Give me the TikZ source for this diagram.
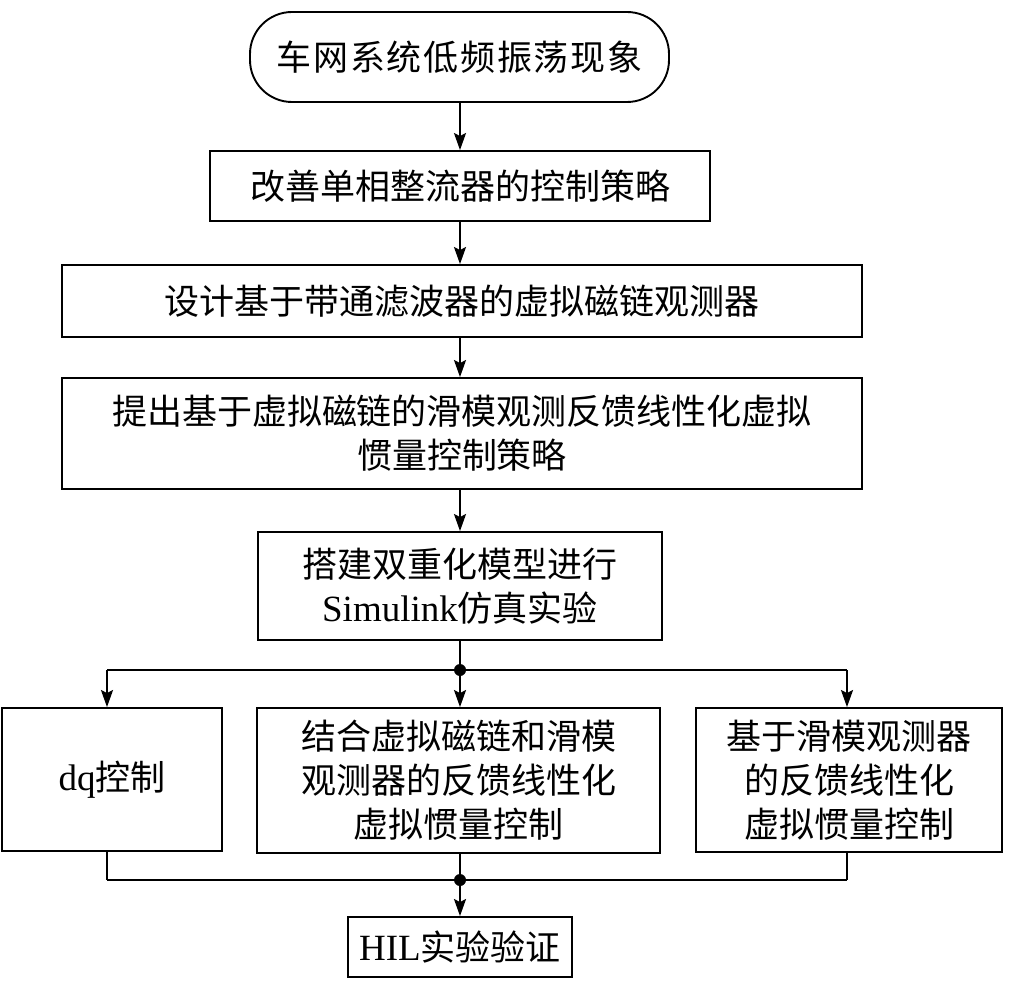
\documentclass[tikz,border=0pt]{standalone}
\usepackage{fontspec}
\setmainfont{Liberation Serif}
\newfontfamily\cjk{Noto Sans CJK SC}
\newcommand\lat[1]{{\rmfamily\fontsize{37}{44}\selectfont #1}}
\usetikzlibrary{arrows.meta}
\begin{document}
\begin{tikzpicture}[x=1pt,y=-1pt,
  every node/.style={font=\cjk\fontsize{35}{44}\selectfont},
  box/.style={draw, line width=1.9pt, inner sep=0pt, align=center},
  conn/.style={line width=1.9pt},
  arr/.style={conn, -{Stealth[length=17pt,width=12pt,inset=3pt]}},
  dot/.style={circle, fill, inner sep=0pt, minimum size=12pt}]
\useasboundingbox (0,0) rectangle (1010,987);
\node[box, rounded corners=42pt, minimum width=419pt, minimum height=90pt] (b1) at (459.5,57) {\addfontfeature{LetterSpace=5}车网系统低频振荡现象};
\node[box, minimum width=500pt, minimum height=70pt] (b2) at (460,186) {改善单相整流器的控制策略};
\node[box, minimum width=800pt, minimum height=72pt] (b3) at (462,301) {设计基于带通滤波器的虚拟磁链观测器};
\node[box, minimum width=800pt, minimum height=111pt] (b4) at (462,433.5) {提出基于虚拟磁链的滑模观测反馈线性化虚拟\\惯量控制策略};
\node[box, minimum width=404pt, minimum height=108pt] (b5) at (460,586) {搭建双重化模型进行\\\lat{Simulink}仿真实验};
\node[box, minimum width=220pt, minimum height=143pt] (b6a) at (112,779.5) {\lat{dq}控制};
\node[box, minimum width=403pt, minimum height=145pt] (b6b) at (458.5,780.5) {结合虚拟磁链和滑模\\观测器的反馈线性化\\虚拟惯量控制};
\node[box, minimum width=306pt, minimum height=144pt] (b6c) at (849,780) {基于滑模观测器\\的反馈线性化\\虚拟惯量控制};
\node[box, minimum width=224pt, minimum height=60pt] (b7) at (460,947) {\lat{HIL}实验验证};
\coordinate (j1) at (460,670);
\coordinate (j1l) at (107,670);
\coordinate (j1r) at (847,670);
\coordinate (j2) at (460,880);
\coordinate (j2l) at (107,880);
\coordinate (j2r) at (847,880);
\draw[arr] (b1.south -| j1) -- (b2.north -| j1);
\draw[arr] (b2.south -| j1) -- (b3.north -| j1);
\draw[arr] (b3.south -| j1) -- (b4.north -| j1);
\draw[arr] (b4.south -| j1) -- (b5.north -| j1);
\draw[conn] (b5.south -| j1) -- (j1);
\draw[conn] (j1l) -- (j1r);
\draw[arr] (j1l) -- (j1l |- b6a.north);
\draw[arr] (j1) -- (j1 |- b6b.north);
\draw[arr] (j1r) -- (j1r |- b6c.north);
\node[dot] (d1) at (j1) {};
\draw[conn] (b6a.south -| j2l) -- (j2l);
\draw[conn] (b6b.south -| j2) -- (j2);
\draw[conn] (b6c.south -| j2r) -- (j2r);
\draw[conn] (j2l) -- (j2r);
\draw[arr] (j2) -- (b7.north -| j2);
\node[dot] (d2) at (j2) {};
\end{tikzpicture}
\end{document}
